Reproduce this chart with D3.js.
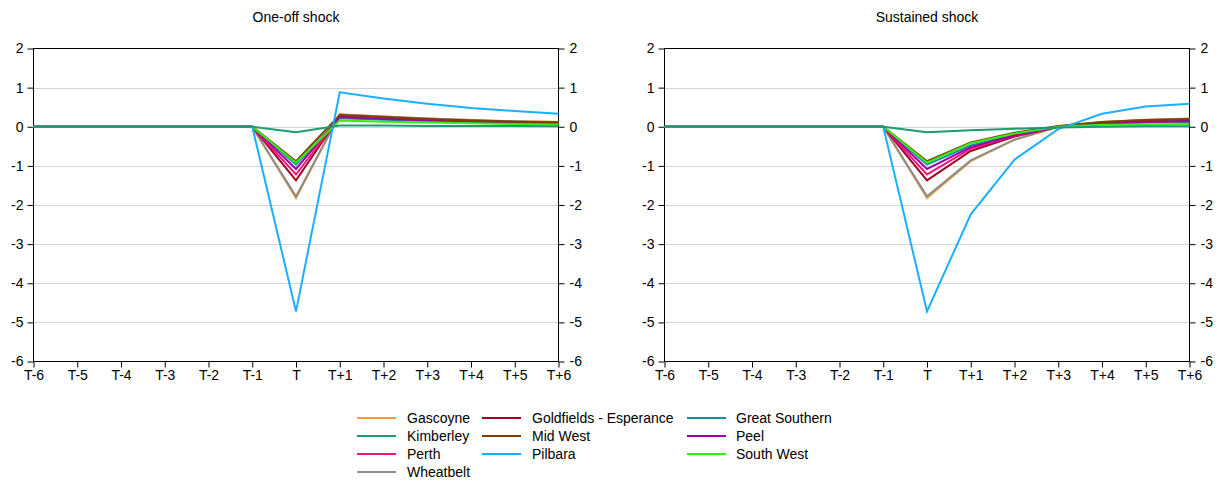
<!DOCTYPE html>
<html><head><meta charset="utf-8">
<script src="https://cdn.jsdelivr.net/npm/d3@7"></script>
<style>body{margin:0;background:#fff}svg{display:block}text{font-family:"Liberation Sans",Arial,sans-serif;fill:#000}</style>
</head><body><svg id="c" width="1221" height="482"></svg>
<script>
const periods = ["T-6","T-5","T-4","T-3","T-2","T-1","T","T+1","T+2","T+3","T+4","T+5","T+6"];
const regions = ["Gascoyne","Goldfields - Esperance","Great Southern","Kimberley","Mid West","Peel","Perth","Pilbara","South West","Wheatbelt"];
const colors = ["#FF9A2E","#A50021","#12909E","#1E9A6E","#7F3F00","#A000A8","#F0187F","#1AAFFF","#33EE11","#8C8C8C"];
const yTicks = [2,1,0,-1,-2,-3,-4,-5,-6];
const panelTitles = ["One-off shock","Sustained shock"];
const z = [0,0,0,0,0,0];
// One-off shock
const oneOff = [
  z.concat([-1.82,0.32,0.26,0.21,0.17,0.14,0.12]),
  z.concat([-1.37,0.27,0.22,0.18,0.15,0.12,0.10]),
  z.concat([-0.97,0.22,0.18,0.15,0.12,0.10,0.08]),
  z.concat([-0.14,0.03,0.03,0.02,0.02,0.02,0.01]),
  z.concat([-0.88,0.30,0.25,0.20,0.16,0.13,0.11]),
  z.concat([-1.08,0.25,0.20,0.17,0.14,0.11,0.09]),
  z.concat([-1.22,0.25,0.21,0.17,0.14,0.12,0.10]),
  z.concat([-4.72,0.88,0.72,0.59,0.48,0.40,0.33]),
  z.concat([-0.92,0.16,0.13,0.11,0.09,0.07,0.06]),
  z.concat([-1.78,0.31,0.26,0.21,0.17,0.14,0.12])
];
// Sustained shock
const sustained = [
  z.concat([-1.82,-0.88,-0.33,0.00,0.12,0.18,0.21]),
  z.concat([-1.37,-0.62,-0.25,0.00,0.10,0.14,0.16]),
  z.concat([-0.97,-0.48,-0.20,0.00,0.08,0.11,0.12]),
  z.concat([-0.14,-0.09,-0.05,-0.02,0.00,0.01,0.01]),
  z.concat([-0.88,-0.40,-0.15,0.02,0.12,0.17,0.20]),
  z.concat([-1.08,-0.52,-0.22,0.00,0.09,0.13,0.15]),
  z.concat([-1.22,-0.56,-0.23,0.00,0.09,0.12,0.15]),
  z.concat([-4.72,-2.24,-0.84,-0.06,0.33,0.52,0.59]),
  z.concat([-0.92,-0.42,-0.17,0.00,0.05,0.06,0.07]),
  z.concat([-1.78,-0.86,-0.33,0.00,0.12,0.17,0.20])
];
const drawOrder = [2,0,9,1,6,5,4,8,7,3];

const svg = d3.select("#c");
const panels = [{x0:33.5,x1:558.5,data:oneOff,title:panelTitles[0]},{x0:664.5,x1:1189.5,data:sustained,title:panelTitles[1]}];
const y = d3.scaleLinear().domain([-6,2]).range([361.5,48.5]);
const fmt = d => String(d);

panels.forEach(p=>{
  const x = d3.scalePoint().domain(periods).range([p.x0,p.x1]);
  const g = svg.append("g");
  g.append("text").attr("x",(p.x0+p.x1)/2).attr("y",22).attr("text-anchor","middle").style("font-size","14px").text(p.title);
  // grid
  g.selectAll("line.grid").data(yTicks.filter(t=>t>-6&&t<2)).enter().append("line")
    .attr("x1",p.x0).attr("x2",p.x1).attr("y1",d=>Math.round(y(d))+0.5).attr("y2",d=>Math.round(y(d))+0.5)
    .attr("stroke","#d4d4d4").attr("stroke-width",1);
  // axes
  const la = g.append("g").attr("transform",`translate(${p.x0},0)`).call(d3.axisLeft(y).tickValues(yTicks).tickFormat(fmt).tickSize(6).tickPadding(4));
  const ra = g.append("g").attr("transform",`translate(${p.x1},0)`).call(d3.axisRight(y).tickValues(yTicks).tickFormat(fmt).tickSize(6).tickPadding(5));
  const ba = g.append("g").attr("transform",`translate(0,${y(-6)})`).call(d3.axisBottom(x).tickSize(6).tickPadding(3));
  [la,ra,ba].forEach(a=>{a.select(".domain").remove();a.selectAll("text").style("font-size","14px").attr("font-family",null);a.selectAll("line").attr("stroke","#000");});
  g.append("rect").attr("x",p.x0).attr("y",y(2)).attr("width",p.x1-p.x0).attr("height",y(-6)-y(2))
    .attr("fill","none").attr("stroke","#000").attr("stroke-width",1);
  const line = d3.line().x((d,i)=>x(periods[i])).y(d=>y(d));
  drawOrder.forEach(k=>{
    g.append("path").datum(p.data[k]).attr("d",line).attr("fill","none")
      .attr("stroke",colors[k]).attr("stroke-width",2).attr("stroke-linejoin","miter");
  });
});

// legend
const legCols = [[357,407],[482,532],[687,736]];
const legRows = [418,436,454,472];
const legendPos = [[0,0],[1,0],[2,0],[0,1],[1,1],[2,1],[0,2],[1,2],[2,2],[0,3]];
const lg = svg.append("g");
regions.forEach((r,i)=>{
  const [c,rw]=legendPos[i];
  const [lx,tx]=legCols[c]; const ly=legRows[rw];
  lg.append("line").attr("x1",lx).attr("x2",lx+39).attr("y1",ly).attr("y2",ly).attr("stroke",colors[i]).attr("stroke-width",2);
  lg.append("text").attr("x",tx).attr("y",ly+5).style("font-size","14px").text(r);
});
</script></body></html>
